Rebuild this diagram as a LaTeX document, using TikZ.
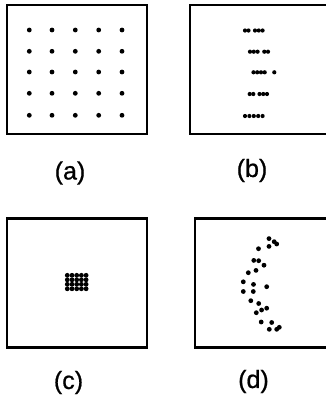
\documentclass[tikz,border=0pt]{standalone}
\usepackage{fontspec}
\setmainfont{Liberation Sans}
\newfontfamily\capfont[FakeBold=0.8]{Liberation Sans}
\usetikzlibrary{positioning}

\begin{document}
\begin{tikzpicture}[
    x=1pt, y=-1pt,
    panel/.style={
        draw=black,
        line width=2.2pt
    },
    dot/.style={
        fill=black
    },
    caption/.style={
        font=\capfont\fontsize{25}{28}\selectfont,
        inner sep=0pt
    }
]
    \useasboundingbox (0,0) rectangle (326,400);

    % --- PANELS ---
    % (a) full box
    \draw [panel] (6.7,4.7) rectangle (146.7,134);
    % (b) box runs off the right edge
    \draw [panel] (326,4.7) -- (190,4.7) -- (190,134) -- (326,134);
    % (c) full box
    \draw [panel] (7,218.5) rectangle (147,347.5);
    % (d) box runs off the right edge
    \draw [panel] (326,218.5) -- (195,218.5) -- (195,347.5) -- (326,347.5);

    % --- DOTS ---
    % (a) regular 5x5 grid
    \foreach \x in {29.3,52,75.3,98.7,122}
        \foreach \y in {30,51.3,72,93.3,115.3}
            \fill [dot] (\x,\y) circle (2.4pt);

    % (b) rows squeezed together
    \foreach \x in {245,248.5,255,258.8,262.6}
        \fill [dot] (\x,30.5) circle (2.1pt);
    \foreach \x in {250,253.8,257.6,264.3,268}
        \fill [dot] (\x,51.7) circle (2.1pt);
    \foreach \x in {253.5,257.2,261,264.7,274.3}
        \fill [dot] (\x,72.3) circle (2.1pt);
    \foreach \x in {249.7,253.3,259.5,263.2,267}
        \fill [dot] (\x,94) circle (2.1pt);
    \foreach \x in {245,249.4,253.8,258.2,262.6}
        \fill [dot] (\x,116) circle (2.1pt);

    % (c) grid packed into a small block
    \foreach \x in {67.3,72,76.7,81.4,86.1}
        \foreach \y in {275.3,279.8,284.3,288.8}
            \fill [dot] (\x,\y) circle (2.4pt);

    % (d) scattered arc
    \foreach \x/\y in {269/238.6, 274.2/241.7, 276.7/244, 269/246.4, 258.5/248.7,
                       253.8/260.4, 258.7/260.7, 264/265.2, 256/270.4, 248.3/272.7,
                       243.3/281.8, 253.5/284.4, 266.7/286.7, 243.3/291.5, 253.3/291.5,
                       250.8/300.7, 258.7/303.5, 266.7/308.2, 261.6/310, 256.3/312.7,
                       261.2/322, 271.7/322.5, 279.3/327.3, 276.7/329.3, 269.3/329.3}
        \fill [dot] (\x,\y) circle (2.4pt);

    % --- LABELS ---
    \node [caption] (lbla) at (70,173) {(a)};
    \node [caption] (lblb) at (252,170.5) {(b)};
    \node [caption] (lblc) at (68.5,382.5) {(c)};
    \node [caption] (lbld) at (253.5,381.5) {(d)};

\end{tikzpicture}
\end{document}
